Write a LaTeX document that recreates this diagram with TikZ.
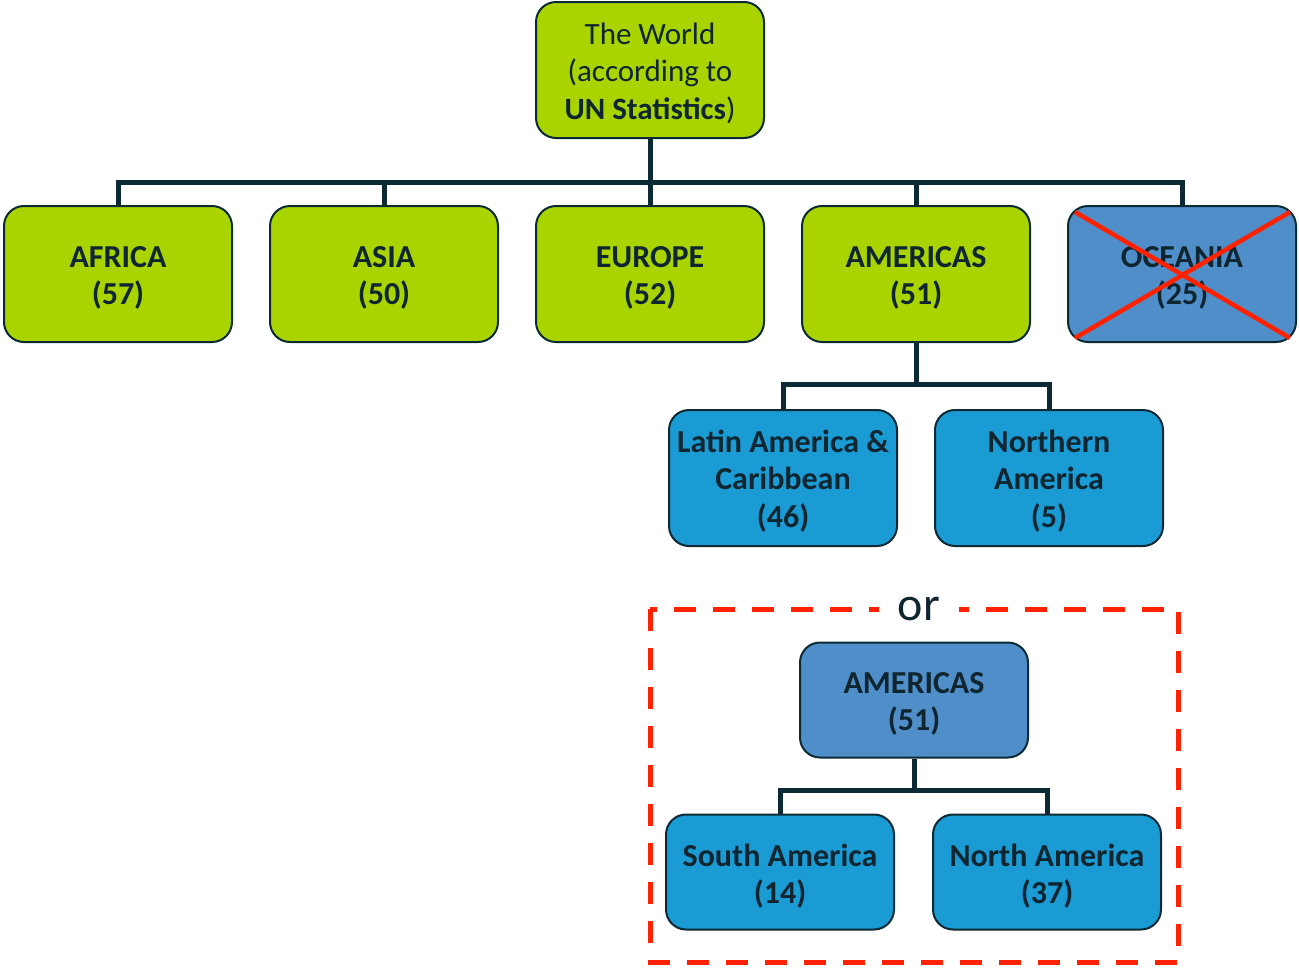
\documentclass[tikz,border=0pt]{standalone}
\usepackage{fontspec}
\setmainfont{Carlito}
\definecolor{green1}{RGB}{169,212,0}
\definecolor{blueA}{RGB}{79,142,201}
\definecolor{blueB}{RGB}{27,155,212}
\definecolor{border}{RGB}{11,42,51}
\definecolor{txt}{RGB}{15,37,48}
\definecolor{redx}{RGB}{255,34,0}
\begin{document}
\begin{tikzpicture}[x=1pt,y=-1pt,
  box/.style={draw=border, line width=2pt, rounded corners=20pt, minimum width=228pt, minimum height=136pt, inner sep=0pt},
  gbox/.style={box, fill=green1},
  abox/.style={box, fill=blueA},
  bbox/.style={box, fill=blueB},
  sbox/.style={minimum height=115pt},
  lbl/.style={align=center, text=txt, inner sep=0pt, font=\fontsize{32}{37.5}\selectfont\bfseries},
  conn/.style={draw=border, line width=5pt},
  cross/.style={draw=redx, line width=4.5pt},
  dashbox/.style={draw=redx, line width=5pt, dash pattern=on 22pt off 17pt}]
\useasboundingbox (0,0) rectangle (1299,967);
% boxes
\node[gbox] (world) at (650,70) {};
\node[gbox] (africa) at (118,274) {};
\node[gbox] (asia) at (384,274) {};
\node[gbox] (europe) at (650,274) {};
\node[gbox] (americas) at (916,274) {};
\node[abox] (oceania) at (1182,274) {};
\node[bbox] (latam) at (783,478) {};
\node[bbox] (northam) at (1049,478) {};
% labels
\node[lbl, font=\fontsize{31}{37.5}\selectfont] (world-t) at ([yshift=-3pt]world.center) {The World\\(according to\\\textbf{UN Statistics})};
\node[lbl] (africa-t) at ([yshift=-4pt]africa.center) {AFRICA\\(57)};
\node[lbl] (asia-t) at ([yshift=-4pt]asia.center) {ASIA\\(50)};
\node[lbl] (europe-t) at ([yshift=-4pt]europe.center) {EUROPE\\(52)};
\node[lbl] (americas-t) at ([yshift=-4pt]americas.center) {AMERICAS\\(51)};
\node[lbl] (oceania-t) at ([yshift=-4pt]oceania.center) {OCEANIA\\(25)};
\node[lbl] (latam-t) at ([yshift=-3pt]latam.center) {Latin America \&\\Caribbean\\(46)};
\node[lbl] (northam-t) at ([yshift=-3pt]northam.center) {Northern\\America\\(5)};
% connectors level 1
\coordinate (bus) at (650,182);
\draw[conn] (world.south) -- (bus);
\draw[conn] (africa.north) |- (bus) -| (oceania.north);
\draw[conn] (asia.north) -- (asia.north |- bus);
\draw[conn] (europe.north) -- (bus);
\draw[conn] (americas.north) -- (americas.north |- bus);
% americas children
\coordinate (bus2) at (916,384);
\draw[conn] (americas.south) -- (bus2);
\draw[conn] (latam.north) |- (bus2) -| (northam.north);
% cross on oceania
\draw[cross] (1075,212) -- (1290,338);
\draw[cross] (1290,212) -- (1075,338);
% alternative
\draw[dashbox] (650,609) rectangle (1178,962);
\node[anchor=base, fill=white, minimum width=80pt, inner ysep=1pt, text=txt, font=\fontsize{48}{52}\selectfont] (or) at (919,620) {or};
\node[abox, sbox] (americas2) at (914,700) {};
\node[bbox, sbox] (southam) at (780,872) {};
\node[bbox, sbox] (northam2) at (1047,872) {};
\node[lbl] (americas2-t) at ([yshift=-4pt]americas2.center) {AMERICAS\\(51)};
\node[lbl] (southam-t) at ([yshift=-4pt]southam.center) {South America\\(14)};
\node[lbl] (northam2-t) at ([yshift=-4pt]northam2.center) {North America\\(37)};
\coordinate (bus3) at (914,790);
\draw[conn] (americas2.south) -- (bus3);
\draw[conn] (southam.north) |- (bus3) -| (northam2.north);
\end{tikzpicture}
\end{document}
